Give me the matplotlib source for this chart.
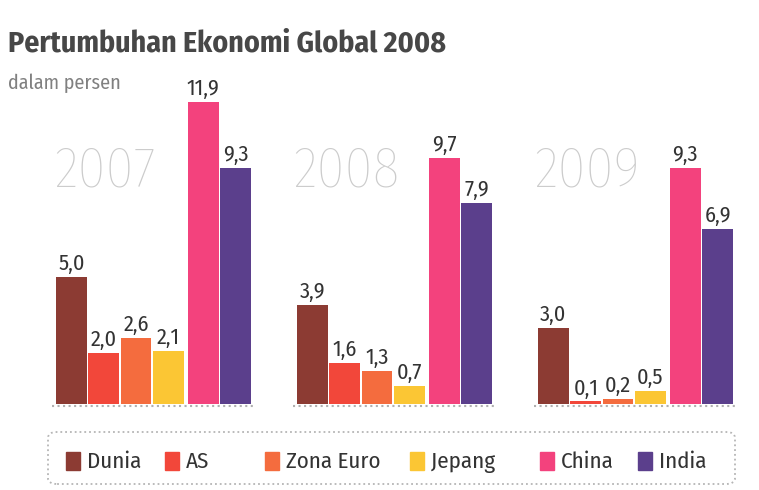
import matplotlib
matplotlib.use("Agg")
import matplotlib.pyplot as plt
from matplotlib.patches import Rectangle, FancyBboxPatch

years = ['2007', '2008', '2009']
regions = ['Dunia', 'AS', 'Zona Euro', 'Jepang', 'China', 'India']
colors = ['#8c3b33', '#f2473a', '#f46c3e', '#fbc634', '#f3427d', '#5b3f8c']
growth = {
    'Dunia':     [5.0, 3.9, 3.0],
    'AS':        [2.0, 1.6, 0.1],
    'Zona Euro': [2.6, 1.3, 0.2],
    'Jepang':    [2.1, 0.7, 0.5],
    'China':     [11.9, 9.7, 9.3],
    'India':     [9.3, 7.9, 6.9],
}

plt.rcParams['font.family'] = ['Fira Sans Condensed', 'DejaVu Sans']

W, H = 759, 490
fig = plt.figure(figsize=(W / 100, H / 100), dpi=100)

# one x unit = one bar pitch, baseline at y=404 px
pitch = 32.3
x0 = 71.5
ax = fig.add_axes([0, 86 / H, 1, 12.5 * 25.4 / H])
ax.set_xlim(-x0 / pitch, (W - x0) / pitch)
ax.set_ylim(0, 12.5)
ax.axis('off')

group_step = 241 / pitch
for g, yr in enumerate(years):
    base = g * group_step
    # big year watermark behind bars
    ax.text(base + 1.05, 9.15, yr, ha='center', va='center', fontsize=41,
            fontweight='light', color='#cccccc', zorder=0)
    for i, reg in enumerate(regions):
        x = base + i + (0.08 if i >= 4 else 0)
        v = growth[reg][g]
        ax.bar(x, v, width=0.95, color=colors[i], edgecolor='none', zorder=2)
        ax.text(x, v + 0.1, f"{v:.1f}".replace('.', ','), ha='center', va='bottom',
                fontsize=16, color='#333333', zorder=3)
    ax.plot([base - 0.6, base + 5.7], [-0.08, -0.08], ls=':', color='#b0b0b0', lw=1.5,
            clip_on=False)

# title
fig.text(8 / W, 1 - 44 / H, 'Pertumbuhan Ekonomi Global 2008', fontsize=21.5,
         fontweight='bold', color='#474747', va='center', ha='left')
fig.text(8 / W, 1 - 83 / H, 'dalam persen', fontsize=14.5, color='#808080',
         va='center', ha='left')

# legend box
box = FancyBboxPatch((48 / W, 1 - 484 / H), (735 - 48) / W, 52 / H,
                     boxstyle='round,pad=0,rounding_size=0.012',
                     transform=fig.transFigure, facecolor='white',
                     edgecolor='#b5b5b5', ls=':', lw=1.3)
fig.patches.append(box)
sq_x = [66, 165, 265, 410, 540, 638]
for i, reg in enumerate(regions):
    fig.patches.append(Rectangle((sq_x[i] / W, 1 - 470 / H), 14 / W, 18 / H,
                                 transform=fig.transFigure, color=colors[i]))
    fig.text((sq_x[i] + 21) / W, 1 - 462 / H, reg, fontsize=16.5, color='#333333',
             va='center', ha='left')

fig.savefig('out.png', dpi=100)
